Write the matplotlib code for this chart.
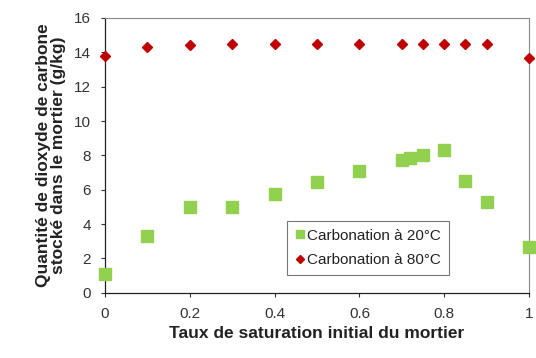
import matplotlib
matplotlib.use("Agg")
import matplotlib.pyplot as plt

# Taux de saturation initial du mortier
x_20 = [0, 0.1, 0.2, 0.3, 0.4, 0.5, 0.6, 0.7, 0.72, 0.75, 0.8, 0.85, 0.9, 1.0]
y_20 = [1.1, 3.3, 5.0, 5.0, 5.75, 6.45, 7.1, 7.75, 7.85, 8.05, 8.3, 6.5, 5.3, 2.65]

x_80 = [0, 0.1, 0.2, 0.3, 0.4, 0.5, 0.6, 0.7, 0.75, 0.8, 0.85, 0.9, 1.0]
y_80 = [13.8, 14.3, 14.45, 14.5, 14.5, 14.5, 14.5, 14.5, 14.5, 14.5, 14.5, 14.5, 13.65]

x_ticks = [0, 0.2, 0.4, 0.6, 0.8, 1]
x_ticklabels = ["0", "0.2", "0.4", "0.6", "0.8", "1"]
y_ticks = [0, 2, 4, 6, 8, 10, 12, 14, 16]

plt.rcParams['font.family'] = ['Liberation Sans', 'DejaVu Sans']

fig = plt.figure(figsize=(5.36, 3.58), dpi=100)
ax = fig.add_axes([0.196, 0.182, 0.791, 0.768])

ax.plot(x_20, y_20, linestyle='none', marker='s', markersize=8,
        color='#92D050', label='Carbonation à 20°C', clip_on=False, zorder=3)
ax.plot(x_80, y_80, linestyle='none', marker='D', markersize=5.5,
        color='#C00000', label='Carbonation à 80°C', clip_on=False, zorder=3)

ax.set_xlim(0, 1)
ax.set_ylim(0, 16)
ax.set_xticks(x_ticks)
ax.set_xticklabels(x_ticklabels)
ax.set_yticks(y_ticks)
ax.tick_params(direction='out', length=3, width=0.8, colors='#333333',
               labelsize=11, labelcolor='#333333')
ax.tick_params(axis='y', pad=7)
ax.tick_params(axis='x', pad=7)

for side in ['left', 'bottom']:
    ax.spines[side].set_color('#222222')
    ax.spines[side].set_linewidth(0.9)
for side in ['top', 'right']:
    ax.spines[side].set_color('#888888')
    ax.spines[side].set_linewidth(0.8)

ax.set_xlabel('Taux de saturation initial du mortier', fontsize=12.5,
              fontweight='bold', color='#222222', labelpad=4)
ax.set_ylabel('Quantité de dioxyde de carbone\nstocké dans le mortier (g/kg)',
              fontsize=12.5, fontweight='bold', color='#222222',
              linespacing=1.0, labelpad=6)

leg = ax.legend(loc='lower left', bbox_to_anchor=(0.43, 0.065),
                borderaxespad=0, frameon=True, fancybox=False, fontsize=11,
                handlelength=0.6, handletextpad=0.2, borderpad=0.5,
                labelspacing=0.7, markerscale=0.8)
leg.get_frame().set_edgecolor('#555555')
leg.get_frame().set_linewidth(0.8)
for t in leg.get_texts():
    t.set_color('#222222')

fig.savefig('out.png', dpi=100)
